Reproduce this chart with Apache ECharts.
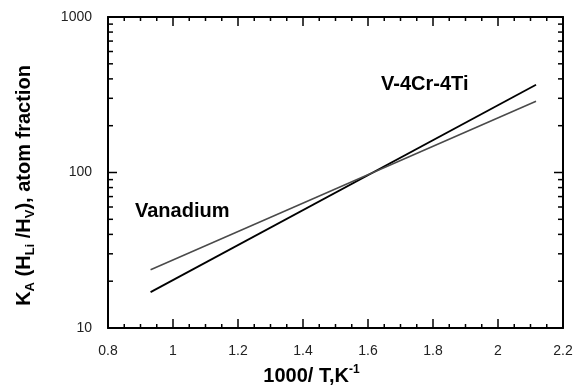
<!DOCTYPE html>
<html>
<head>
<meta charset="utf-8">
<script src="https://cdn.jsdelivr.net/npm/echarts@6/dist/echarts.min.js"></script>
<style>
  html, body { margin: 0; padding: 0; background: #fff; }
  #chart { width: 586px; height: 386px; }
</style>
</head>
<body>
<div id="chart"></div>
<script>
// values: 1000/T and K_A
const alloyX = [0.931, 2.117];
const alloyY = [17.0, 367];
const vanadiumX = [0.931, 2.117];
const vanadiumY = [23.7, 287];
// tick positions
const xMajorTicks = [0.8, 1.0, 1.2, 1.4, 1.6, 1.8, 2.0, 2.2];
const yMajorTicks = [10, 100, 1000];
const yMinorTicks = [20, 30, 40, 50, 60, 70, 80, 90, 200, 300, 400, 500, 600, 700, 800, 900];

const X_MIN = 0.8, X_MAX = 2.2, Y_MIN = 10, Y_MAX = 1000;
const FONT = "Liberation Sans";
const chart = echarts.init(document.getElementById("chart"));

function pairs(xs, ys) {
  return xs.map((x, i) => [x, ys[i]]);
}

// minor x ticks every 0.05 between the major ones
const xMinorTicks = [];
for (let i = 0; i < xMajorTicks.length - 1; i++) {
  const step = (xMajorTicks[i + 1] - xMajorTicks[i]) / 4;
  for (let k = 1; k < 4; k++) xMinorTicks.push(xMajorTicks[i] + step * k);
}

const yTickData = yMajorTicks.map(v => [X_MIN, v, 9]).concat(yMinorTicks.map(v => [X_MIN, v, 5]));

const tickStyle = { stroke: "#000", lineWidth: 1.5 };
const seg = (x1, y1, x2, y2) => ({ type: "line", shape: { x1, y1, x2, y2 }, style: tickStyle });

// x ticks as thin rect symbols sitting on the bottom and top axis lines
function xTickSeries(values, yVal, len, down) {
  return {
    type: "scatter", silent: true, clip: false, xAxisIndex: 0, yAxisIndex: 0,
    data: values.map(v => [v, yVal]),
    symbol: "rect", symbolSize: [1.5, len],
    symbolOffset: [0, down ? len / 2 : -len / 2],
    itemStyle: { color: "#000", opacity: 1 },
    z: 5
  };
}

const lineAxis = { show: true, onZero: false, lineStyle: { color: "#000", width: 2 } };

const xMain = {
  type: "value", min: X_MIN, max: X_MAX, interval: 0.2, position: "bottom",
  axisLine: lineAxis, axisTick: { show: false },
  axisLabel: { color: "#222", fontFamily: FONT, fontSize: 14, margin: 16,
    formatter: v => String(Math.round(v * 10) / 10) },
  splitLine: { show: false },
  name: "{b|1000/ T,K}{p|-1}",
  nameLocation: "middle",
  nameGap: 36,
  nameTextStyle: {
    padding: [0, 48, 0, 0],
    rich: {
      b: { fontFamily: FONT, fontWeight: "bold", fontSize: 20, color: "#000", lineHeight: 24 },
      p: { fontFamily: FONT, fontWeight: "bold", fontSize: 12, color: "#000", lineHeight: 12, verticalAlign: "top" }
    }
  }
};
const xTop = {
  type: "value", min: X_MIN, max: X_MAX, interval: 0.2, position: "top",
  axisLine: lineAxis, axisTick: { show: false }, axisLabel: { show: false }, splitLine: { show: false }
};

const yMain = {
  type: "log", logBase: 10, min: Y_MIN, max: Y_MAX, position: "left",
  axisLine: lineAxis, axisTick: { show: false },
  axisLabel: { color: "#222", fontFamily: FONT, fontSize: 14, margin: 16,
    formatter: v => String(Math.round(v)) },
  splitLine: { show: false },
  name: "{b|K}{s|A}{b| (H}{s|Li}{b| /H}{s|V}{b|), atom fraction}",
  nameLocation: "middle",
  nameRotate: 90,
  nameGap: 71,
  nameTextStyle: {
    padding: [0, 26, 0, 0],
    rich: {
      b: { fontFamily: FONT, fontWeight: "bold", fontSize: 20, color: "#000", lineHeight: 26 },
      s: { fontFamily: FONT, fontWeight: "bold", fontSize: 13, color: "#000", lineHeight: 12, verticalAlign: "bottom" }
    }
  }
};
const yRight = {
  type: "log", logBase: 10, min: Y_MIN, max: Y_MAX, position: "right",
  axisLine: lineAxis, axisTick: { show: false }, axisLabel: { show: false }, splitLine: { show: false }
};

chart.setOption({
  animation: false,
  grid: { left: 108, top: 17, right: 23, bottom: 58, outerBoundsMode: "none" },
  xAxis: [xMain, xTop],
  yAxis: [yMain, yRight],
  graphic: [
    { type: "text", left: 135, top: 201, style: { text: "Vanadium", fontFamily: FONT, fontWeight: "bold", fontSize: 20, fill: "#000" } },
    { type: "text", left: 381, top: 74, style: { text: "V-4Cr-4Ti", fontFamily: FONT, fontWeight: "bold", fontSize: 20, fill: "#000" } }
  ],
  series: [
    {
      name: "V-4Cr-4Ti", type: "line", xAxisIndex: 0, yAxisIndex: 0,
      data: pairs(alloyX, alloyY), showSymbol: false,
      lineStyle: { color: "#000", width: 1.8 }
    },
    {
      name: "Vanadium", type: "line", xAxisIndex: 0, yAxisIndex: 0,
      data: pairs(vanadiumX, vanadiumY), showSymbol: false,
      lineStyle: { color: "#4a4a4a", width: 1.5 }
    },
    xTickSeries(xMajorTicks, Y_MIN, 9, false),
    xTickSeries(xMinorTicks, Y_MIN, 4, false),
    xTickSeries(xMajorTicks, Y_MAX, 9, true),
    xTickSeries(xMinorTicks, Y_MAX, 4, true),
    {
      name: "yTicks", type: "custom", silent: true, xAxisIndex: 0, yAxisIndex: 0,
      data: yTickData,
      renderItem: (params, api) => {
        const l = api.coord([X_MIN, api.value(1)]);
        const r = api.coord([X_MAX, api.value(1)]);
        const len = api.value(2);
        return { type: "group", children: [
          seg(l[0], l[1], l[0] + len, l[1]),
          seg(r[0], r[1], r[0] - len, r[1])
        ] };
      }
    }
  ]
});
</script>
</body>
</html>
